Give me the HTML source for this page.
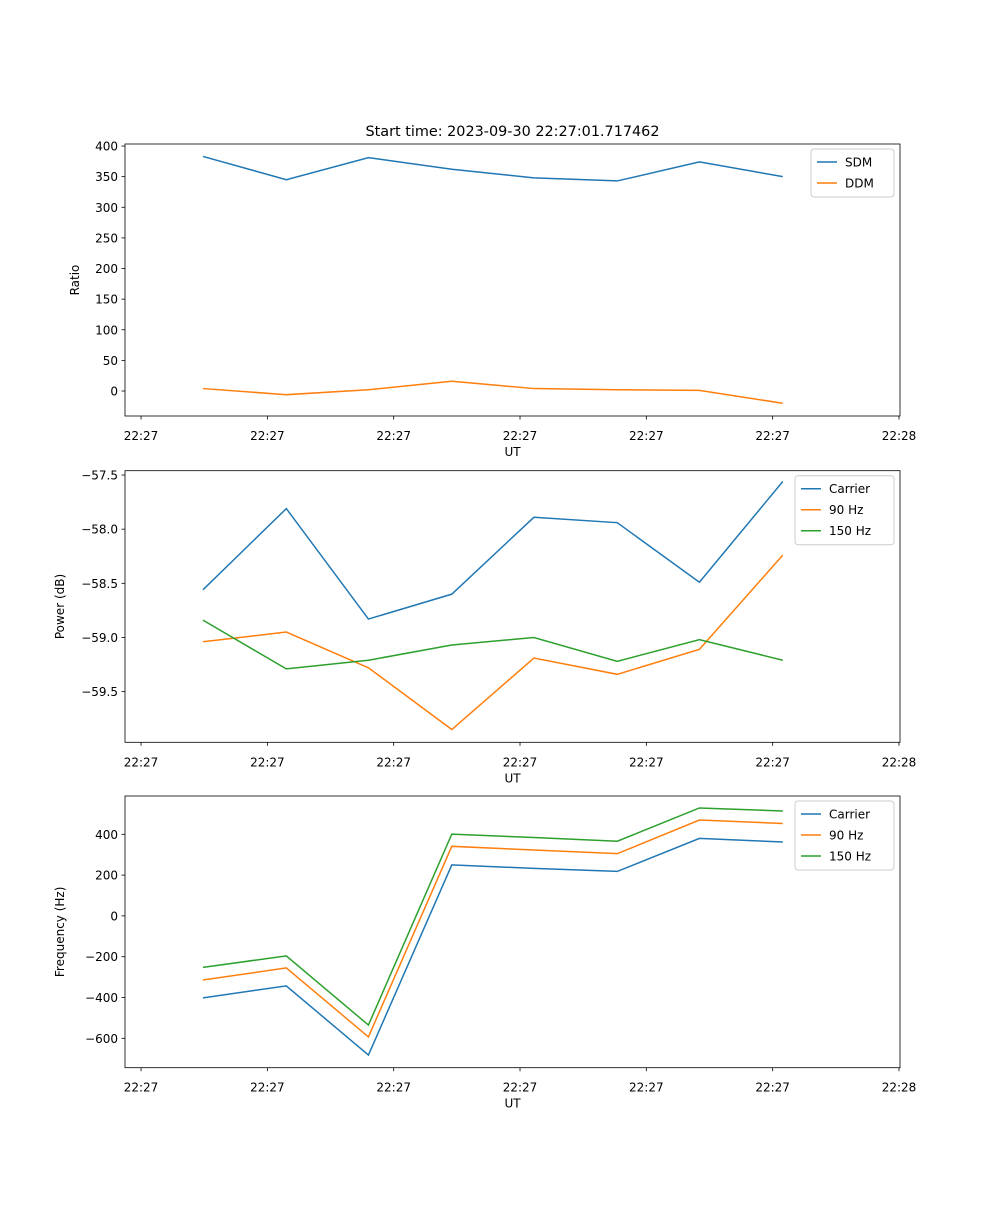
<!DOCTYPE html>
<html><head><meta charset="utf-8"><style>
body{margin:0;background:#fff}
svg{font-family:"DejaVu Sans","Liberation Sans",sans-serif}
</style></head><body>
<svg id="fig" width="1000" height="1200" viewBox="0 0 1000 1200">
<text x="512.5" y="136" font-size="14.4" text-anchor="middle">Start time: 2023-09-30 22:27:01.717462</text>
</svg>
<script>
const times = [4.9, 11.5, 18.0, 24.6, 31.1, 37.7, 44.2, 50.8];
const xTickVals = [0, 10, 20, 30, 40, 50, 60];
const xTickLabels = ["22:27","22:27","22:27","22:27","22:27","22:27","22:28"];
const sdm = [383, 345, 381, 362, 348, 343, 374, 350];
const ddm = [4, -6, 2, 16, 4, 2, 1, -20];
const ratioTicks = [400, 350, 300, 250, 200, 150, 100, 50, 0];
const pCarrier = [-58.56, -57.81, -58.83, -58.60, -57.89, -57.94, -58.49, -57.56];
const p90 = [-59.04, -58.95, -59.28, -59.85, -59.19, -59.34, -59.11, -58.24];
const p150 = [-58.84, -59.29, -59.21, -59.07, -59.00, -59.22, -59.02, -59.21];
const powerTicks = [-57.5, -58.0, -58.5, -59.0, -59.5];
const fCarrier = [-402, -343, -682, 250, 233, 218, 380, 362];
const f90 = [-314, -255, -593, 341, 323, 305, 470, 453];
const f150 = [-252, -196, -535, 401, 384, 366, 529, 514];
const freqTicks = [400, 200, 0, -200, -400, -600];

const NS = "http://www.w3.org/2000/svg";
const svg = document.getElementById('fig');
function mk(tag, attrs, parent){const e=document.createElementNS(NS,tag);for(const k in attrs)e.setAttribute(k,attrs[k]);(parent||svg).appendChild(e);return e;}
const L=125,R=900;
const xmin=-1.27,xmax=60.08;
const xs=v=>L+(v-xmin)/(xmax-xmin)*(R-L);
const fmtNum=v=>{const s=(Math.abs(v)%1===0&&Math.abs(v)>=1||v===0)?String(Math.abs(v)):Math.abs(v).toFixed(1);return (v<0?"\u2212":"")+s;};

function panel(name, top, bot, ymin, ymax, yTicks, series, ylabel, legendW, dec, ylx){
  const g=mk('g',{});
  
  
  const ys=v=>bot-(v-ymin)/(ymax-ymin)*(bot-top);
  yTicks.forEach(t=>{
    const y=ys(t);
    mk('line',{x1:L-3.5,x2:L,y1:y,y2:y,stroke:'#000','stroke-width':0.8},g);
    const tx=mk('text',{x:L-7,y:y+4.5,'font-size':12,'text-anchor':'end'},g);
    tx.textContent=dec?((t<0?"\u2212":"")+Math.abs(t).toFixed(1)):fmtNum(t);
    
    
  });
  xTickVals.forEach((t,i)=>{
    const x=xs(t);
    mk('line',{x1:x,x2:x,y1:bot,y2:bot+3.5,stroke:'#000','stroke-width':0.8},g);
    const tx=mk('text',{x:x,y:bot+24,'font-size':12,'text-anchor':'middle'},g);
    tx.textContent=xTickLabels[i];
    
    
  });
  series.forEach(s=>{
    const p=mk('polyline',{points:s.d.map((v,i)=>xs(times[i])+','+ys(v)).join(' '),fill:'none',stroke:s.c,'stroke-width':1.5},g);
    
    
  });
  const fr=mk('rect',{x:L,y:top,width:R-L,height:bot-top,fill:'none',stroke:'#000','stroke-width':0.8},g);
  
  
  const xl=mk('text',{x:(L+R)/2,y:bot+40,'font-size':12,'text-anchor':'middle'},g);
  xl.textContent='UT';
  
  
  const cy=(top+bot)/2;
  const yl=mk('text',{x:0,y:0,'font-size':12,'text-anchor':'middle',transform:`translate(${ylx},${cy}) rotate(-90)`},g);
  yl.textContent=ylabel;
  
  
  const lx=R-6-legendW, ly=top+5, lh=6+series.length*21;
  const lg=mk('g',{},g);
  
  
  mk('rect',{x:lx,y:ly,width:legendW,height:lh,rx:3,fill:'#fff',stroke:'#ccc','stroke-width':1},lg);
  series.forEach((s,i)=>{
    const yy=ly+13+i*21;
    mk('line',{x1:lx+6,x2:lx+26,y1:yy,y2:yy,stroke:s.c,'stroke-width':1.5},lg);
    const t=mk('text',{x:lx+34,y:yy+4.5,'font-size':12},lg);
    t.textContent=s.label;
    
    
  });
}
const B='#1f77b4',O='#ff7f0e',G='#2ca02c';
panel('ratio',144,416,-40.8,403.3,ratioTicks,[{d:sdm,c:B,label:'SDM',id:'sdm'},{d:ddm,c:O,label:'DDM',id:'ddm'}],'Ratio',83,false,79);
panel('power',470.7,742.3,-59.968,-57.46,powerTicks,[{d:pCarrier,c:B,label:'Carrier',id:'power-carrier'},{d:p90,c:O,label:'90 Hz',id:'power-90hz'},{d:p150,c:G,label:'150 Hz',id:'power-150hz'}],'Power (dB)',99,true,64);
panel('frequency',796,1067.7,-744,587.7,freqTicks,[{d:fCarrier,c:B,label:'Carrier',id:'freq-carrier'},{d:f90,c:O,label:'90 Hz',id:'freq-90hz'},{d:f150,c:G,label:'150 Hz',id:'freq-150hz'}],'Frequency (Hz)',99,false,64);
</script>
</body></html>
